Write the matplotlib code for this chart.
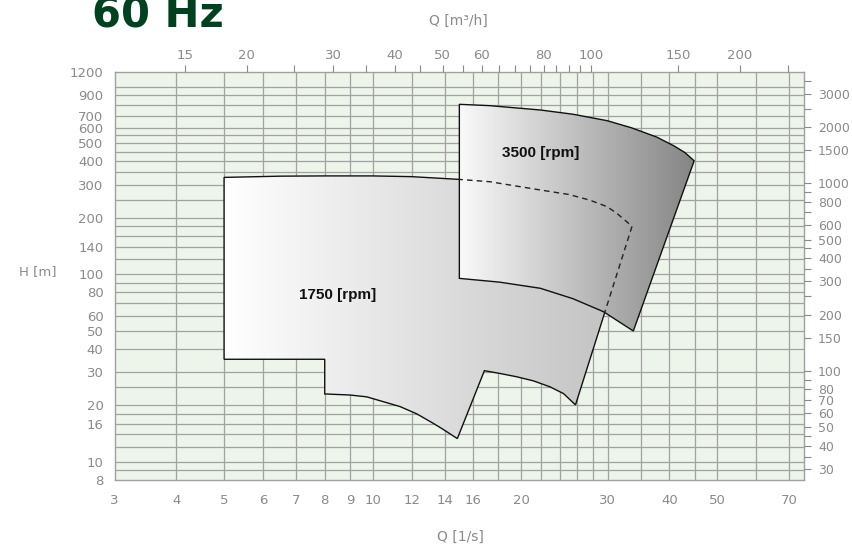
import numpy as np
import matplotlib
matplotlib.use("Agg")
import matplotlib.pyplot as plt
from matplotlib.patches import Polygon
from matplotlib.colors import LinearSegmentedColormap

# ---------------- data ----------------
# 1750 rpm operating field (Q [l/s], H [m]) - outline
q_1750 = [5, 6.5, 8, 10, 12, 15, 17.3, 21.9, 25.0, 27.6, 29.9, 31.3, 32.8, 33.6,
          25.8, 24.4, 22.9, 21.2, 19.6, 18.1, 16.86,
          14.86, 13.9, 13.3, 12.3, 11.37, 9.73, 9.0, 8.0,
          8.0, 5.0]
h_1750 = [328, 333, 334, 334, 331, 320, 311, 281, 266, 248, 229, 211, 190, 180,
          20.1, 23.1, 25.1, 27.0, 28.4, 29.6, 30.6,
          13.3, 14.9, 16.0, 18.0, 19.7, 22.2, 22.7, 23.0,
          35.2, 35.2]

# 3500 rpm operating field
q_3500 = [15, 17.3, 21.9, 25.5, 29.9, 33.5, 37.7, 40.8, 43.0, 44.9,
          33.8, 29.4, 25.5, 21.9, 18.1, 15]
h_3500 = [804, 791, 750, 712, 658, 603, 538, 484, 445, 402,
          49.8, 63.1, 74.0, 84.1, 90.7, 95]

labels_rpm = ["1750 [rpm]", "3500 [rpm]"]
label_q = [8.5, 21.9]
label_h = [77, 442]

# axes ticks
q_ticks = [3, 4, 5, 6, 7, 8, 9, 10, 12, 14, 16, 20, 30, 40, 50, 70]
q_grid = [4, 5, 6, 7, 8, 9, 10, 12, 14, 16, 18, 20, 22, 24, 26, 28, 30,
          35, 40, 45, 50, 60, 70]
h_ticks = [8, 10, 16, 20, 30, 40, 50, 60, 80, 100, 140, 200, 300, 400, 500,
           600, 700, 900, 1200]
h_grid = [9, 10, 12, 14, 16, 18, 20, 25, 30, 40, 50, 60, 70, 80, 90, 100,
          120, 140, 160, 180, 200, 250, 300, 350, 400, 450, 500, 550, 600,
          700, 800, 900, 1000]
qm3_ticks = [15, 20, 30, 40, 50, 60, 80, 100, 150, 200]
qm3_minor = [25, 35, 45, 55, 65, 70, 75, 85, 90, 95, 250]
hft_ticks = [30, 40, 50, 60, 70, 80, 100, 150, 200, 300, 400, 500, 600, 800,
             1000, 1500, 2000, 3000]
hft_minor = [35, 45, 90, 250, 350, 450, 700, 900, 2500, 3500]

QMIN, QMAX = 3, 75
HMIN, HMAX = 8, 1200

# ---------------- figure ----------------
fig = plt.figure(figsize=(8.52, 5.47), dpi=100)
ax = fig.add_axes([114.7 / 852, 1 - 480 / 547, (804 - 114.7) / 852, (480 - 71.7) / 547])
ax.set_xscale("log")
ax.set_yscale("log")
ax.set_xlim(QMIN, QMAX)
ax.set_ylim(HMIN, HMAX)
ax.set_facecolor("#edf4ea")

gridc = "#a2a2a2"
for q in q_grid:
    ax.axvline(q, color=gridc, lw=0.9, zorder=1)
for h in h_grid:
    ax.axhline(h, color=gridc, lw=0.9, zorder=1)

tc = "#8a8a8a"
ax.set_xticks(q_ticks)
ax.set_xticklabels([str(v) for v in q_ticks])
ax.xaxis.set_minor_locator(matplotlib.ticker.NullLocator())
ax.set_yticks(h_ticks)
ax.set_yticklabels([str(v) for v in h_ticks])
ax.yaxis.set_minor_locator(matplotlib.ticker.NullLocator())
ax.tick_params(axis="both", length=0, labelsize=9.5, colors=tc)
ax.tick_params(axis="x", pad=10)
ax.tick_params(axis="y", pad=8)
for sp in ax.spines.values():
    sp.set_color("#a0a0a0")
    sp.set_linewidth(1.0)


def to_axes(qs, hs):
    pts = ax.transData.transform(np.column_stack([qs, hs]))
    return ax.transAxes.inverted().transform(pts)


def gradient_field(qs, hs, c0, c1, z):
    poly = Polygon(np.column_stack([qs, hs]), closed=True, facecolor="none",
                   edgecolor="#111111", lw=1.0, zorder=z + 1)
    ax.add_patch(poly)
    a = to_axes(qs, hs)
    x0, x1 = a[:, 0].min(), a[:, 0].max()
    y0, y1 = a[:, 1].min(), a[:, 1].max()
    cmap = LinearSegmentedColormap.from_list("g", [c0, c1])
    im = ax.imshow(np.linspace(0, 1, 256).reshape(1, -1), cmap=cmap,
                   extent=[x0, x1, y0, y1], transform=ax.transAxes,
                   aspect="auto", zorder=z, interpolation="bilinear")
    im.set_clip_path(poly)
    return poly


gradient_field(q_1750, h_1750, "#ffffff", "#c0c0c0", 3)
p35 = gradient_field(q_3500, h_3500, "#fafafa", "#858585", 5)

# dashed hidden edge of the 1750 field inside the 3500 field
dash, = ax.plot(q_1750 + [q_1750[0]], h_1750 + [h_1750[0]], color="#222222",
                lw=1.0, ls=(0, (4, 3)), zorder=7)
dash.set_clip_path(p35)

for t, q, h in zip(labels_rpm, label_q, label_h):
    ax.text(q, h, t, ha="center", va="center", fontsize=11,
            fontweight="bold", family="Liberation Sans", color="#111111", zorder=9)

ax.set_xlim(QMIN, QMAX)
ax.set_ylim(HMIN, HMAX)

# top axis m3/h
axt = ax.twiny()
axt.set_xscale("log")
axt.set_xlim(QMIN * 3.6, QMAX * 3.6)
axt.set_xticks(qm3_ticks)
axt.set_xticklabels([str(v) for v in qm3_ticks])
axt.set_xticks(qm3_minor, minor=True)
axt.xaxis.set_minor_formatter(matplotlib.ticker.NullFormatter())
axt.tick_params(axis="x", which="both", direction="out", length=5, width=0.8,
                color="#8a8a8a", labelsize=9.5, labelcolor=tc, pad=2)
for sp in axt.spines.values():
    sp.set_visible(False)

# right axis ft
axr = ax.twinx()
axr.set_yscale("log")
axr.set_ylim(HMIN * 3.28084, HMAX * 3.28084)
axr.set_yticks(hft_ticks)
axr.set_yticklabels([str(v) for v in hft_ticks])
axr.set_yticks(hft_minor, minor=True)
axr.yaxis.set_minor_formatter(matplotlib.ticker.NullFormatter())
axr.tick_params(axis="y", which="both", direction="out", length=5, width=0.8,
                color="#8a8a8a", labelsize=9, labelcolor=tc, pad=5)
for sp in axr.spines.values():
    sp.set_visible(False)

fig.text(92 / 852, 1 - 28 / 547, "60 Hz", fontsize=30, fontweight="bold",
         color="#00421f", ha="left", va="baseline", family="DejaVu Sans")
fig.text(458 / 852, 1 - 21 / 547, "Q [m³/h]", fontsize=10, color=tc,
         ha="center", va="center")
fig.text(460 / 852, 1 - 537 / 547, "Q [1/s]", fontsize=10, color=tc,
         ha="center", va="center")
fig.text(38 / 852, 1 - 272 / 547, "H [m]", fontsize=9.5, color=tc,
         ha="center", va="center")

fig.savefig("out.png", dpi=100)
